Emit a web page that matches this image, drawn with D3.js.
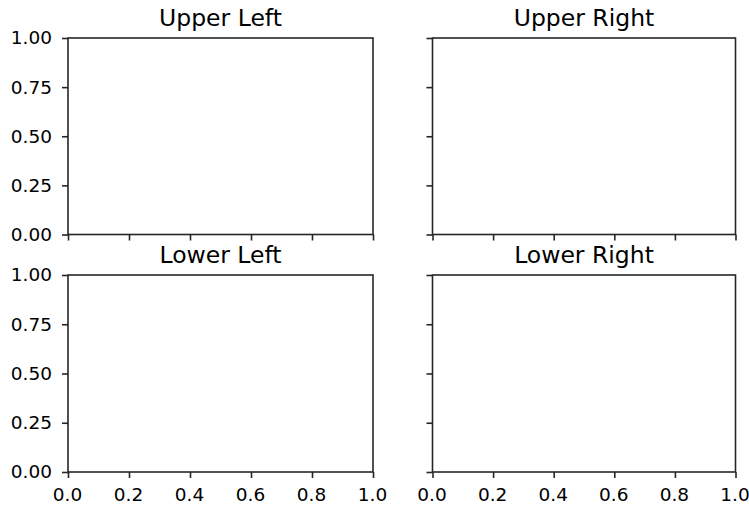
<!DOCTYPE html>
<html><head><meta charset="utf-8">
<script src="https://cdn.jsdelivr.net/npm/d3@7"></script>
<style>body{margin:0;background:#fff}svg{display:block}text{font-family:"DejaVu Sans",sans-serif;fill:#000}</style>
</head><body>
<svg id="c" width="749" height="508"></svg>
<script>
const titles = ["Upper Left", "Upper Right", "Lower Left", "Lower Right"];
const xTicks = [0.0, 0.2, 0.4, 0.6, 0.8, 1.0];
const yTicks = [0.00, 0.25, 0.50, 0.75, 1.00];
const xDomain = [0, 1];
const yDomain = [0, 1];

const svg = d3.select("#c");
const cols = [[68, 373], [432.5, 735.5]];
const rows = [[38, 234.5], [275, 472]];
const fs = 18.5, tickLen = 6, pad = 10;
const lineCol = "#262626", lw = 1.6;

titles.forEach((t, i) => {
  const r = Math.floor(i / 2), c = i % 2;
  const [x0, x1] = cols[c], [y0, y1] = rows[r];
  const x = d3.scaleLinear().domain(xDomain).range([x0, x1]);
  const y = d3.scaleLinear().domain(yDomain).range([y1, y0]);
  const g = svg.append("g");
  const xa = g.append("g").attr("transform", `translate(0,${y1})`)
    .call(d3.axisBottom(x).tickValues(xTicks).tickSize(tickLen).tickPadding(pad)
      .tickFormat(r === 1 ? d3.format(".1f") : () => ""));
  const ya = g.append("g").attr("transform", `translate(${x0},0)`)
    .call(d3.axisLeft(y).tickValues(yTicks).tickSize(tickLen).tickPadding(pad)
      .tickFormat(c === 0 ? d3.format(".2f") : () => ""));
  [xa, ya].forEach(a => {
    a.select(".domain").remove();
    a.selectAll("line").attr("stroke", lineCol).attr("stroke-width", lw);
    a.selectAll("text").attr("font-size", fs).attr("font-family", "DejaVu Sans").attr("fill", "#262626");
  });
  xa.selectAll("text").attr("dx", -1);
  g.append("rect").attr("x", x0).attr("y", y0).attr("width", x1 - x0).attr("height", y1 - y0)
    .attr("fill", "none").attr("stroke", lineCol).attr("stroke-width", lw);
  g.append("text").attr("x", (x0 + x1) / 2).attr("y", y0 - 12)
    .attr("text-anchor", "middle").attr("font-size", 23.5).attr("fill", "#262626").text(t);
});
</script>
</body></html>
